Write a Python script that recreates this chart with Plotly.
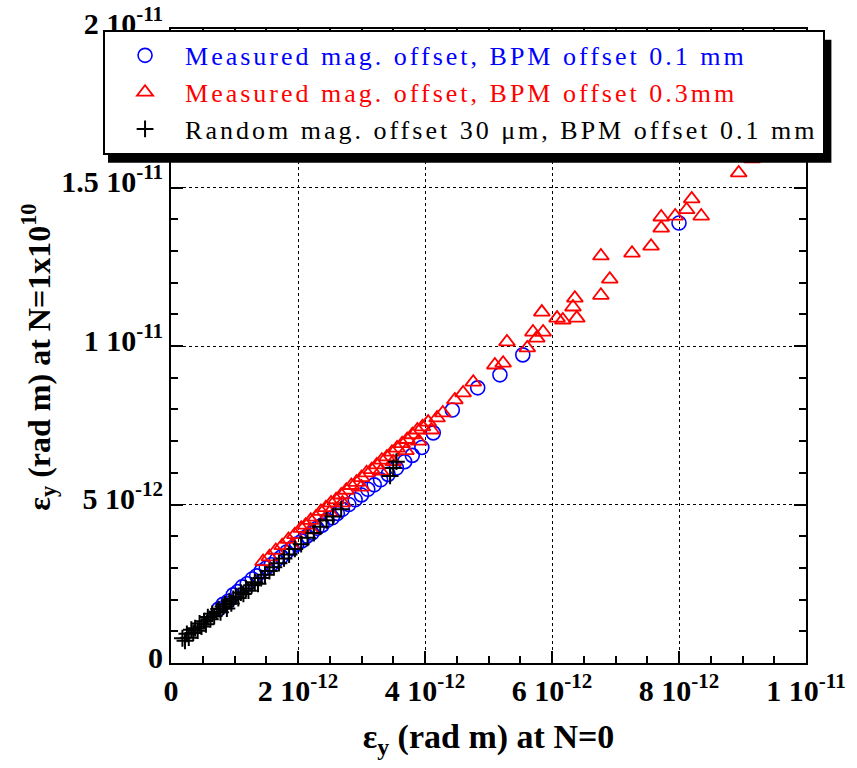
import plotly.graph_objects as go

# Values in units of 1e-12 rad m
blue_x = [0.75,0.82,0.90,0.98,1.05,1.12,1.20,1.28,1.35,1.42,1.50,1.58,1.66,1.74,1.82,1.90,1.98,2.06,2.14,2.22,
          2.30,2.38,2.46,2.54,2.62,2.70,2.80,2.90,3.00,3.10,3.20,3.30,3.42,3.55,3.68,3.80,3.95,4.13,4.43,4.83,
          5.18,5.54,8.00]
blue_y = [1.70,1.85,1.95,2.15,2.25,2.40,2.50,2.65,2.75,2.90,3.00,3.10,3.25,3.35,3.50,3.62,3.75,3.85,4.00,4.10,
          4.25,4.35,4.50,4.58,4.72,4.85,5.00,5.15,5.30,5.48,5.62,5.78,5.95,6.15,6.35,6.55,6.80,7.26,7.98,8.68,
          9.09,9.72,13.88]

red_x = [1.45,1.55,1.65,1.75,1.85,1.90,1.95,2.05,2.12,2.20,2.20,2.28,2.36,2.44,2.50,2.52,2.60,2.68,2.70,2.76,
         2.84,2.92,3.00,3.00,3.08,3.16,3.24,3.30,3.32,3.40,3.48,3.50,3.56,3.64,3.70,3.72,3.80,3.88,3.90,3.96,
         4.05,4.10,4.19,4.28,4.47,4.60,4.76,5.10,5.23,5.29,5.61,5.70,5.76,5.84,5.86,6.08,6.17,6.33,6.36,6.39,
         6.77,6.77,6.91,7.26,7.56,7.72,7.72,7.94,8.12,8.20,8.35,8.94,9.15]
red_y = [3.20,3.35,3.55,3.70,3.90,3.70,4.05,4.25,4.35,4.50,4.20,4.60,4.78,4.90,4.75,5.05,5.15,5.30,5.05,5.45,
         5.60,5.70,5.85,5.55,6.00,6.10,6.25,6.05,6.40,6.50,6.65,6.35,6.78,6.92,6.70,7.05,7.20,7.35,7.00,7.45,
         7.60,7.35,7.73,7.89,8.30,8.52,8.86,9.40,9.46,10.13,9.94,10.44,10.25,11.07,10.44,10.88,10.82,11.23,11.51,10.88,
         11.60,12.84,12.11,12.93,13.15,13.72,14.07,14.10,14.30,14.64,14.10,15.46,15.90]

black_x = [0.18,0.22,0.25,0.28,0.32,0.35,0.38,0.42,0.45,0.48,0.52,0.55,0.58,0.62,0.65,0.68,0.72,0.75,0.78,0.82,
           0.85,0.88,0.92,0.95,0.98,1.02,1.06,1.10,1.14,1.18,1.22,1.27,1.32,1.37,1.42,1.48,1.55,1.62,1.70,1.78,
           1.86,1.95,2.05,2.15,2.25,2.35,2.45,2.55,2.68,3.45,3.50,3.55]
black_y = [0.78,0.70,0.92,0.80,1.05,0.95,1.10,1.02,1.25,1.15,1.32,1.22,1.45,1.38,1.55,1.48,1.62,1.70,1.60,1.78,
           1.85,1.72,1.95,1.88,2.02,2.10,2.05,2.22,2.18,2.35,2.28,2.45,2.55,2.50,2.68,2.78,2.90,3.02,3.15,3.30,
           3.42,3.60,3.75,3.95,4.10,4.30,4.50,4.62,4.85,5.90,6.15,6.35]

x_tickvals = [0, 2, 4, 6, 8, 10]
x_ticktext = ["0", "2 10<sup>-12</sup>", "4 10<sup>-12</sup>", "6 10<sup>-12</sup>",
              "8 10<sup>-12</sup>", "1 10<sup>-11</sup>"]
y_tickvals = [0, 5, 10, 15, 20]
y_ticktext = ["0", "5 10<sup>-12</sup>", "1 10<sup>-11</sup>", "1.5 10<sup>-11</sup>", "2 10<sup>-11</sup>"]

legend_labels = ["Measured mag. offset, BPM offset 0.1 mm",
                 "Measured mag. offset, BPM offset 0.3mm",
                 "Random mag. offset 30 μm, BPM offset 0.1 mm"]
colors = ["#0000ff", "#ff0000", "#000000"]
names = ['<span style="color:%s;letter-spacing:3px">%s</span>' % (c, t)
         for c, t in zip(colors, legend_labels)]

FONT = "Liberation Serif"

fig = go.Figure()
fig.add_trace(go.Scatter(x=blue_x, y=blue_y, mode="markers", name=names[0],
                         marker=dict(symbol="circle-open", size=14, color=colors[0], line=dict(width=1.6))))
fig.add_trace(go.Scatter(x=red_x, y=red_y, mode="markers", name=names[1],
                         marker=dict(symbol="triangle-up-open", size=14, color=colors[1], line=dict(width=1.8))))
fig.add_trace(go.Scatter(x=black_x, y=black_y, mode="markers", name=names[2],
                         marker=dict(symbol="cross-thin-open", size=12, color=colors[2], line=dict(width=2))))

axis_common = dict(showline=True, linecolor="black", linewidth=2, mirror="allticks",
                   ticks="inside", tickcolor="black", tickwidth=2, ticklen=12,
                   showgrid=True, gridcolor="black", gridwidth=1, griddash="dot",
                   zeroline=False, automargin=False,
                   tickfont=dict(family=FONT, size=30, color="black", weight="bold"))

fig.update_xaxes(range=[0, 10], tickvals=x_tickvals, ticktext=x_ticktext,
                 minor=dict(dtick=0.5, ticks="inside", ticklen=7, tickcolor="black", tickwidth=2, showgrid=False),
                 title=dict(text="ε<sub>y</sub> (rad m) at N=0", standoff=18,
                            font=dict(family=FONT, size=34, color="black", weight="bold")),
                 **axis_common)
fig.update_yaxes(range=[0, 20], tickvals=y_tickvals, ticktext=y_ticktext, ticklabelshift=-6,
                 minor=dict(dtick=1, ticks="inside", ticklen=7, tickcolor="black", tickwidth=2, showgrid=False),
                 **axis_common)

# y-axis title (placed like the reference, overlapping the tick labels slightly)
fig.add_annotation(text="ε<sub>y</sub> (rad m) at N=1x10<sup>10</sup>", textangle=-90,
                   xref="paper", yref="paper", x=-0.208, y=0.483,
                   xanchor="center", yanchor="middle", showarrow=False,
                   font=dict(family=FONT, size=32, color="black", weight="bold"))

# legend shadow
fig.add_shape(type="rect", xref="paper", yref="paper",
              x0=-0.0992, x1=1.040, y0=0.789, y1=0.983,
              fillcolor="black", line=dict(width=0), layer="above")

fig.update_layout(
    width=857, height=768,
    margin=dict(l=171, r=51, t=29, b=105, autoexpand=False),
    paper_bgcolor="white", plot_bgcolor="white",
    font=dict(family=FONT, color="black"),
    showlegend=True,
    legend=dict(x=-0.107, y=0.9985, xanchor="left", yanchor="top",
                bgcolor="white", bordercolor="black", borderwidth=2,
                font=dict(family=FONT, size=26, color="black"),
                tracegroupgap=0, itemsizing="trace", itemwidth=70),
)

fig.write_html("out.html")
